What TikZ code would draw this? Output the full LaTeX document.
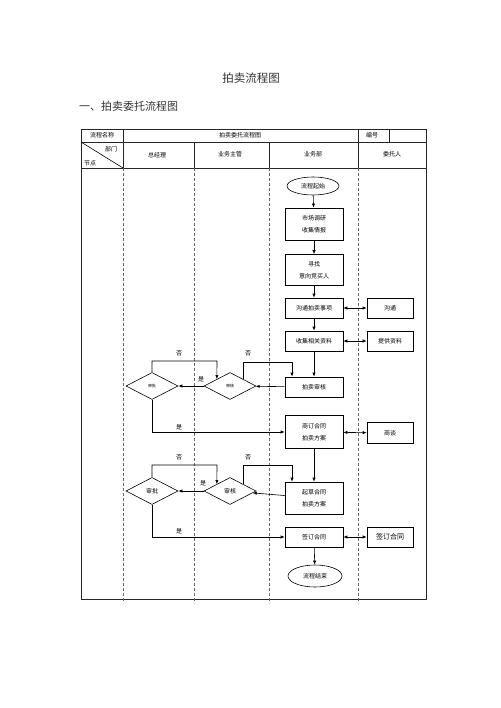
\documentclass[tikz,border=0pt]{standalone}
\usepackage{fontspec}
\setmainfont{Noto Sans CJK SC}
\usetikzlibrary{arrows.meta,shapes.geometric}
\begin{document}
\begin{tikzpicture}[x=1pt,y=-1pt,
  txt/.style={font=\fontsize{6}{12}\selectfont, inner sep=0},
  box/.style={draw, line width=0.6pt, minimum width=58pt, inner sep=0, align=center, font=\fontsize{6}{12}\selectfont},
  cbox/.style={draw, line width=0.6pt, minimum width=46pt, minimum height=20pt, inner sep=0, align=center, font=\fontsize{6}{12}\selectfont},
  oval/.style={draw, line width=0.6pt, ellipse, inner sep=0, font=\fontsize{6}{12}\selectfont},
  dia/.style={draw, line width=0.6pt, diamond, minimum width=52pt, minimum height=27pt, inner sep=0},
  arr/.style={line width=0.6pt, -{Latex[length=4pt,width=3.2pt]}},
  dbl/.style={line width=0.6pt, {Latex[length=4pt,width=3.2pt]}-{Latex[length=4pt,width=3.2pt]}},
  frame/.style={line width=0.8pt, draw=black!85},
  lane/.style={line width=0.5pt, densely dashed, draw=black!60}
]
\useasboundingbox (0,0) rectangle (500,708);
% titles
\node[font=\fontsize{11.5}{12}\selectfont, text=black!80] (title) at (251,78) {拍卖流程图};
\node[font=\fontsize{11}{12}\selectfont, text=black!80, anchor=west, inner sep=0] (sub) at (79,106) {一、拍卖委托流程图};
% table frame
\draw[frame] (81,129) rectangle (426,599);
\draw[frame] (81,142) -- (426,142);
\draw[frame] (81,168) -- (426,168);
\draw[frame] (123,129) -- (123,168);
\draw[frame] (358,129) -- (358,168);
\draw[frame] (389,129) -- (389,142);
\draw[frame] (194,142) -- (194,168);
\draw[frame] (269,142) -- (269,168);
\draw[line width=0.6pt] (81,142) -- (123,168);
% lanes
\foreach \xx in {123,194,269,358} \draw[lane] (\xx,168) -- (\xx,603);
% header text
\node[txt] (h1) at (102,135.5) {流程名称};
\node[txt] (h2) at (240,135.5) {拍卖委托流程图};
\node[txt] (h3) at (372,135.5) {编号};
\node[txt] (h4) at (111,149) {部门};
\node[txt] (h5) at (90,163) {节点};
\node[txt] (h6) at (157,155) {总经理};
\node[txt] (h7) at (230,154) {业务主管};
\node[txt] (h8) at (313,154) {业务部};
\node[txt] (h9) at (392,154) {委托人};
% flow nodes
\node[oval, minimum width=52pt, minimum height=18pt] (start) at (313,186) {流程起始};
\node[box, minimum height=32pt] (b1) at (314,224) {市场调研\\收集情报};
\node[box, minimum height=31pt] (b2) at (314,270) {寻找\\意向竞买人};
\node[box, minimum height=20pt] (b3) at (314,308) {沟通拍卖事项};
\node[cbox] (c1) at (390,308) {沟通};
\node[box, minimum height=20pt] (b4) at (314,341) {收集相关资料};
\node[cbox] (c2) at (390,341) {提供资料};
\node[box, minimum height=20pt] (b5) at (314,387) {拍卖审核};
\node[dia, font=\fontsize{4}{5}\selectfont] (d1) at (230,386) {审核};
\node[dia, font=\fontsize{4}{5}\selectfont] (d2) at (152,386) {审批};
\node[box, minimum height=33pt] (b6) at (314,432) {商订合同\\拍卖方案};
\node[cbox, minimum height=21pt] (c3) at (390,433) {商谈};
\node[box, minimum height=32pt] (b7) at (314,498) {起草合同\\拍卖方案};
\node[dia, font=\fontsize{6}{7}\selectfont] (d3) at (230,491) {审核};
\node[dia, font=\fontsize{6}{7}\selectfont] (d4) at (152,491) {审批};
\node[box, minimum height=20pt] (b8) at (314,537) {签订合同};
\node[cbox, font=\fontsize{7}{8}\selectfont] (c4) at (390,537) {签订合同};
\node[oval, minimum width=54pt, minimum height=22pt] (end) at (315,576) {流程结束};
% coordinates for loops
\coordinate (n1) at (217,361);
\coordinate (n2) at (292,362);
\coordinate (n3) at (217,465);
\coordinate (n4) at (292,465);
% connectors
\draw[arr] (start) -- (b1);
\draw[arr] (b1) -- (b2);
\draw[arr] (b2) -- (b3);
\draw[arr] (b3) -- (b4);
\draw[arr] (b4) -- (b5);
\draw[dbl] (b3) -- (c1);
\draw[dbl] (b4) -- (c2);
\draw[arr] (b5) -- (d1);
\draw[arr] (d1) -- (d2);
\draw[arr] (d2.north) |- (n1) -- (d1.north west);
\draw[arr] (d1.north east) |- (n2) -- (n2 |- b5.north);
\draw[arr] (d2.south) |- (b6.west);
\draw[dbl] (b6) -- (c3);
\draw[arr] (b6) -- (b7);
\draw[arr] (b7) -- (d3);
\draw[arr] (d3) -- (d4);
\draw[arr] (d4.north) |- (n3) -- (d3.north west);
\draw[arr] (d3.north east) |- (n4) -- (n4 |- b7.north);
\draw[arr] (d4.south) |- (b8.west);
\draw[dbl] (b8) -- (c4);
\draw[arr] (b8) -- (end);
% labels
\node[txt] (l1) at (179,353) {否};
\node[txt] (l2) at (248,353) {否};
\node[txt] (l3) at (201,379) {是};
\node[txt] (l4) at (179,427) {是};
\node[txt] (l5) at (179,457) {否};
\node[txt] (l6) at (248,457) {否};
\node[txt] (l7) at (203,483) {是};
\node[txt] (l8) at (179,531) {是};
\end{tikzpicture}
\end{document}
